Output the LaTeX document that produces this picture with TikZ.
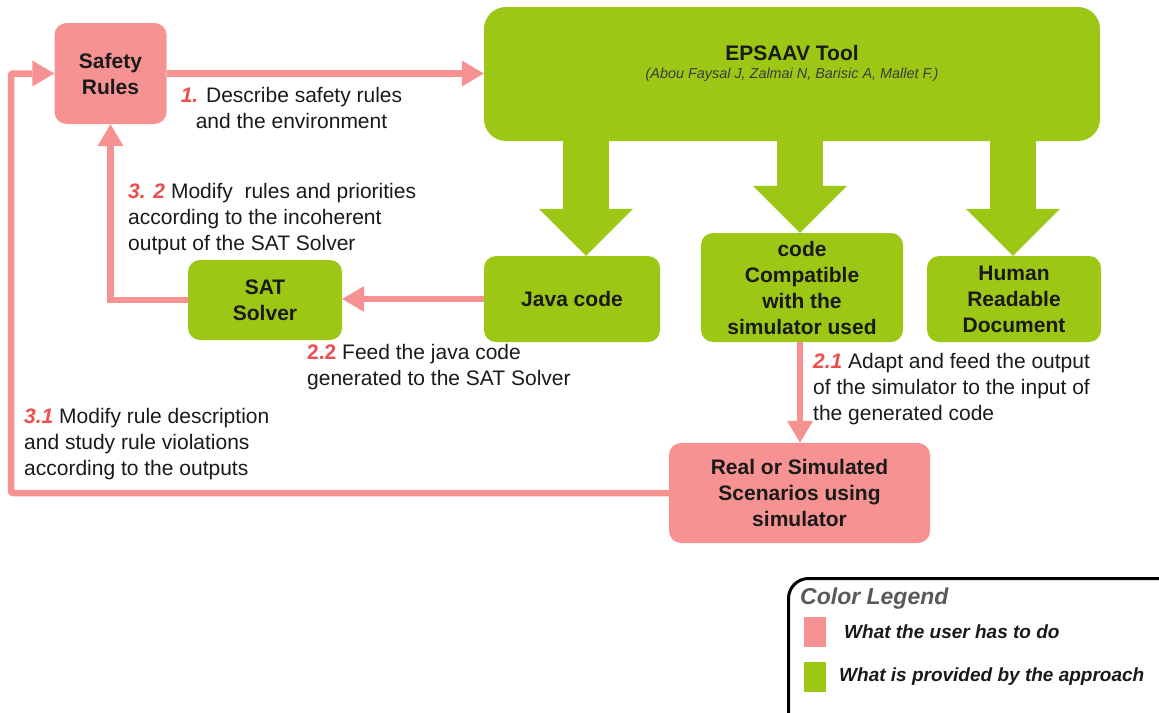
\documentclass[tikz,border=0pt]{standalone}
\usepackage{fontspec}
\setmainfont{Liberation Sans}
\usetikzlibrary{arrows.meta}
\definecolor{userpink}{HTML}{F69392}
\definecolor{toolgreen}{HTML}{9CC715}
\definecolor{stepred}{HTML}{EE4D4D}
\definecolor{legendgray}{HTML}{595959}
\definecolor{textdark}{HTML}{1A1A1A}
\newcommand{\stepno}[1]{\textcolor{stepred}{\bfseries\itshape #1}}
\newcommand{\steprm}[1]{\textcolor{stepred}{\bfseries #1}}
\tikzset{
  userbox/.style={fill=userpink, rounded corners=12pt, inner sep=0pt, align=center,
    text=textdark, font=\bfseries\fontsize{21}{26}\selectfont},
  toolbox/.style={fill=toolgreen, rounded corners=12pt, inner sep=0pt, align=center,
    text=textdark, font=\bfseries\fontsize{21}{26}\selectfont},
  steplabel/.style={inner sep=0pt, align=left, text=textdark, font=\fontsize{21}{26}\selectfont},
  flow/.style={draw=userpink, line width=6.5pt,
    -{Triangle[width=26pt,length=22pt,line width=0pt]}},
  bigflow/.style={draw=toolgreen, line width=46pt,
    -{Triangle[width=94pt,length=47pt,line width=0pt]}},
  legendtext/.style={inner sep=0pt, anchor=west, text=textdark,
    font=\bfseries\itshape\fontsize{19}{23}\selectfont}
}
\begin{document}
\begin{tikzpicture}[x=1pt,y=-1pt]
	\useasboundingbox (0,0) rectangle (1159,712);
	\clip (0,0) rectangle (1159,712);
	% the boxes
	\node[userbox, minimum width=112, minimum height=101] (safety) at (110.5,73.5) {Safety\\Rules};
	\node[toolbox, rounded corners=22pt, minimum width=616, minimum height=134] (tool) at (792,74) {};
	\node[inner sep=0pt, text=textdark, font=\bfseries\fontsize{21}{26}\selectfont] (tooltitle) at (792,53) {EPSAAV Tool};
	\node[inner sep=0pt, text=textdark!85, font=\itshape\fontsize{14.4}{17}\selectfont] (toolauthors) at (792,75) {(Abou Faysal J, Zalmai N, Barisic A, Mallet F.)};
	\node[toolbox, minimum width=176, minimum height=86] (java) at (572,299) {Java code};
	\node[toolbox, minimum width=202, minimum height=109] (compat) at (802,287.5) {code\\Compatible\\with the\\simulator used};
	\node[toolbox, minimum width=174, minimum height=86] (human) at (1014,299) {Human\\Readable\\Document};
	\node[toolbox, minimum width=154, minimum height=80] (sat) at (265,300) {SAT\\Solver};
	\node[userbox, minimum width=261, minimum height=100] (real) at (799.5,493) {Real or Simulated\\Scenarios using\\simulator};
	\coordinate (leftrail) at (11,0);
	%% the outputs of the tool
	\draw[bigflow] ([xshift=14pt,yshift=4pt]tool.south -| java.north) -- ([xshift=14pt]java.north);
	\draw[bigflow] ([yshift=4pt]tool.south -| 800,0) -- (compat.north -| 800,0);
	\draw[bigflow] ([yshift=4pt]tool.south -| 1013,0) -- (human.north -| 1013,0);
	%% the pink connectors
	\draw[flow] (safety.east) -- (safety.east -| tool.west);
	\draw[flow] (java.west) -- (java.west -| sat.east);
	\draw[flow] (sat.west) -| (safety.south);
	\draw[flow] (compat.south -| 800,0) -- (real.north -| 800,0);
	\draw[flow, rounded corners=2pt] (real.west) -- (real.west -| leftrail) |- (safety.west);
	%% the labels
	\node[steplabel, align=center] (step1) at (291.5,107.5) {\stepno{1.} Describe safety rules\\and the environment};
	\node[steplabel, anchor=west] (step32) at (128,219) {\stepno{3. 2} Modify\ \ rules and priorities\\according to the incoherent\\output of the SAT Solver};
	\node[steplabel, anchor=west] (step22) at (307,367.5) {\steprm{2.2} Feed the java code\\generated to the SAT Solver};
	\node[steplabel, anchor=west] (step21) at (813,389) {\stepno{2.1} Adapt and feed the output\\of the simulator to the input of\\the generated code};
	\node[steplabel, anchor=west] (step31) at (24,444.5) {\stepno{3.1} Modify rule description\\and study rule violations\\according to the outputs};
	%% the legend
	\draw[line width=3pt, rounded corners=20pt] (788.5,578.5) rectangle (1190,740);
	\node[inner sep=0pt, anchor=west, text=legendgray, font=\bfseries\itshape\fontsize{23}{27}\selectfont] (legendtitle) at (800,599) {Color Legend};
	\node[fill=userpink, inner sep=0pt, minimum width=22, minimum height=30] (userkey) at (815,632) {};
	\node[legendtext] (userkeytext) at (844,632) {What the user has to do};
	\node[fill=toolgreen, inner sep=0pt, minimum width=22, minimum height=30] (toolkey) at (815,676.5) {};
	\node[legendtext] (toolkeytext) at (839,677) {What is provided by the approach};
\end{tikzpicture}
\end{document}
